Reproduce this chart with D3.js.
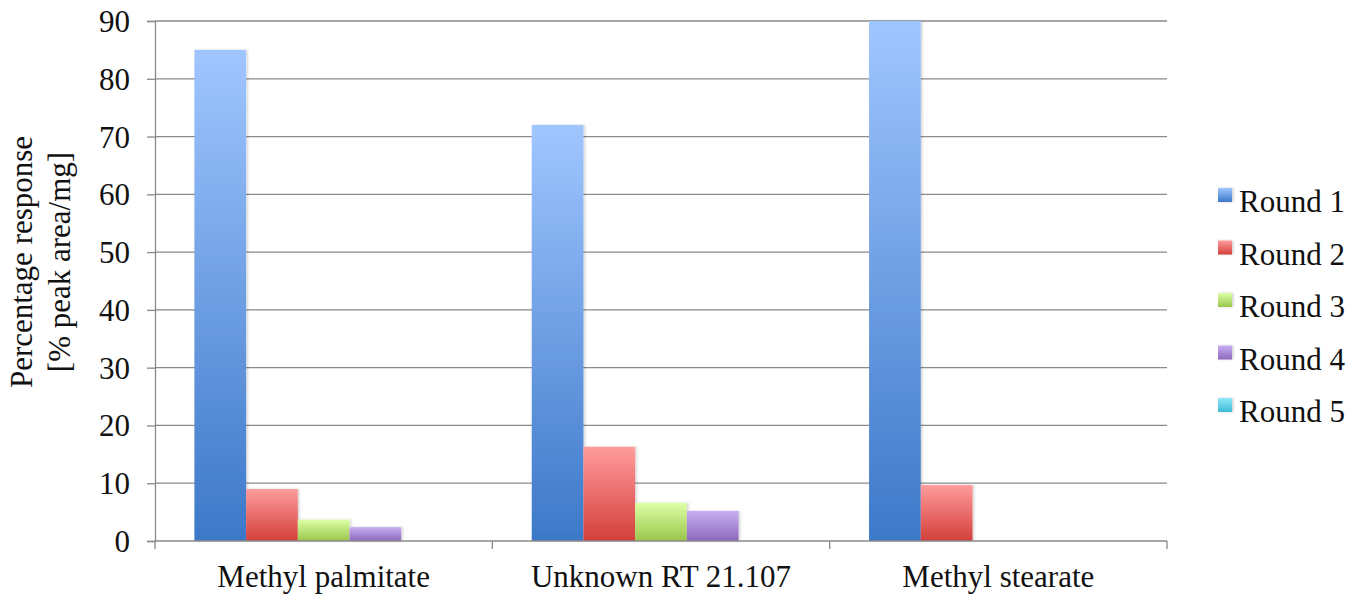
<!DOCTYPE html>
<html><head><meta charset="utf-8">
<script src="https://cdn.jsdelivr.net/npm/d3@7"></script>
<style>body{margin:0;background:#fff;}</style>
</head><body>
<svg id="c" width="1350" height="594"></svg>
<script>
const categories = ["Methyl palmitate", "Unknown RT 21.107", "Methyl stearate"];
const seriesNames = ["Round 1", "Round 2", "Round 3", "Round 4", "Round 5"];
const round1 = [85, 72, 90];
const round2 = [9, 16.3, 9.7];
const round3 = [3.7, 6.6, 0];
const round4 = [2.4, 5.2, 0];
const round5 = [0, 0, 0];
const yTicks = [0, 10, 20, 30, 40, 50, 60, 70, 80, 90];
const seriesValues = [round1, round2, round3, round4, round5];
const colorsTop = ["#a0c6ff", "#ff9c9c", "#dcffa6", "#c8aef2", "#8ee8f8"];
const colorsBot = ["#3c78c8", "#d33f3b", "#9ac64a", "#8c68bd", "#3fbcd8"];

const FONT = "Liberation Serif";
const FS = 31;
const svg = d3.select("#c");
const m = {l: 155, r: 1167, t: 21, b: 541};
const x0 = d3.scaleBand().domain(categories).range([m.l, m.r]).paddingInner(0).paddingOuter(0);
const x1 = d3.scaleBand().domain(seriesNames).range([0, x0.bandwidth()]).paddingOuter(0.762).paddingInner(0);
const y = d3.scaleLinear().domain([0, 90]).range([m.b, m.t]);

const defs = svg.append("defs");
seriesNames.forEach((s, i) => {
  const g = defs.append("linearGradient").attr("id", "g" + i).attr("x1", 0).attr("y1", 0).attr("x2", 0).attr("y2", 1);
  g.append("stop").attr("offset", "0%").attr("stop-color", colorsTop[i]);
  g.append("stop").attr("offset", "100%").attr("stop-color", colorsBot[i]);
});
const f = defs.append("filter").attr("id", "sh").attr("x", "-10%").attr("y", "-10%").attr("width", "130%").attr("height", "130%");
f.append("feDropShadow").attr("dx", 1.5).attr("dy", 0).attr("stdDeviation", 1.2).attr("flood-color", "#000").attr("flood-opacity", 0.18);

svg.append("g").selectAll("line").data(yTicks.filter(d => d > 0)).join("line")
  .attr("x1", m.l).attr("x2", m.r).attr("y1", d => y(d)).attr("y2", d => y(d))
  .attr("stroke", "#8a8a8a").attr("stroke-width", 1.3);

const groups = svg.append("g").selectAll("g").data(categories).join("g")
  .attr("transform", d => `translate(${x0(d)},0)`);
groups.selectAll("rect").data((d, ci) => seriesNames.map((s, si) => ({s, si, v: seriesValues[si][ci]})).filter(o => o.v > 0))
  .join("rect")
  .attr("x", d => x1(d.s)).attr("width", x1.bandwidth())
  .attr("y", d => y(d.v)).attr("height", d => y(0) - y(d.v))
  .attr("fill", d => `url(#g${d.si})`).attr("filter", "url(#sh)");

const yAxis = d3.axisLeft(y).tickValues(yTicks).tickSize(8).tickPadding(17).tickFormat(d3.format("d"));
const ya = svg.append("g").attr("transform", `translate(${m.l},0)`).call(yAxis)
  .attr("font-family", null).attr("font-size", null);
ya.select(".domain").attr("stroke", "#8a8a8a").attr("stroke-width", 1.3);
ya.selectAll(".tick line").attr("stroke", "#8a8a8a").attr("stroke-width", 1.3);
ya.selectAll("text").attr("fill", "#111").attr("dy", "0.34em").style("font-family", FONT).style("font-size", FS + "px");

const xa = svg.append("g").attr("transform", `translate(0,${m.b})`);
xa.append("line").attr("x1", m.l).attr("x2", m.r).attr("stroke", "#8a8a8a").attr("stroke-width", 1.3);
const bounds = [m.l].concat(categories.map(c => x0(c) + x0.bandwidth()));
xa.selectAll("line.t").data(bounds).join("line").attr("class", "t")
  .attr("x1", d => d).attr("x2", d => d).attr("y1", 0).attr("y2", 8)
  .attr("stroke", "#8a8a8a").attr("stroke-width", 1.3);
xa.selectAll("text").data(categories).join("text")
  .attr("x", d => x0(d) + x0.bandwidth() / 2).attr("y", 46)
  .attr("text-anchor", "middle").style("font-family", FONT).style("font-size", FS + "px").attr("fill", "#111").text(d => d);

const yt = svg.append("text").attr("transform", "translate(0,262) rotate(-90)").attr("text-anchor", "middle")
  .style("font-family", FONT).style("font-size", FS + "px").attr("fill", "#111");
yt.append("tspan").attr("x", 0).attr("y", 32).text("Percentage response");
yt.append("tspan").attr("x", 0).attr("y", 70).text("[% peak area/mg]");

const lg = svg.append("g").selectAll("g").data(seriesNames).join("g")
  .attr("transform", (d, i) => `translate(1218,${188 + i * 52.5})`);
lg.append("rect").attr("x", 0).attr("y", 0).attr("width", 14).attr("height", 14)
  .attr("fill", (d, i) => `url(#g${i})`).attr("filter", "url(#sh)");
lg.append("text").attr("x", 21).attr("y", 24).style("font-family", FONT).style("font-size", FS + "px").attr("fill", "#111").text(d => d);
</script>
</body></html>
